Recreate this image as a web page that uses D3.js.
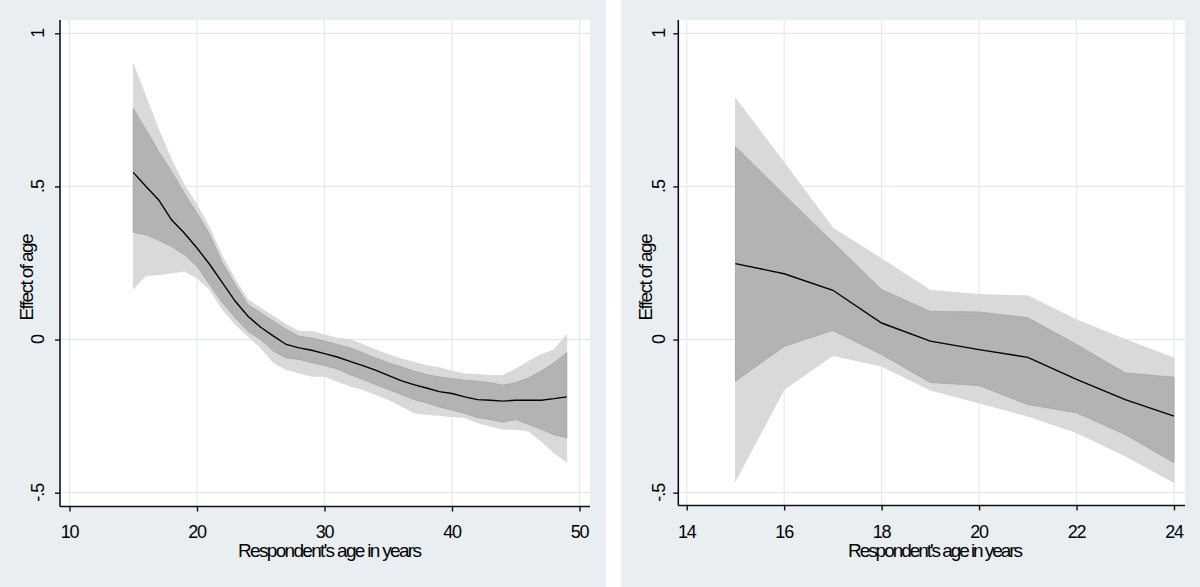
<!DOCTYPE html>
<html>
<head>
<meta charset="utf-8">
<script src="https://cdn.jsdelivr.net/npm/d3@7"></script>
<style>
  html, body { margin: 0; padding: 0; background: #ffffff; }
  svg { display: block; }
  text { font-family: "Liberation Sans", Arial, sans-serif; fill: #000; }
</style>
</head>
<body>
<svg id="chart" width="1200" height="587"></svg>
<script>
// ---------- Data: left panel (ages 15-49) ----------
const agesL = [15,16,17,18,19,20,21,22,23,24,25,26,27,28,29,30,31,32,33,34,35,36,37,38,39,40,41,42,43,44,45,46,47,48,49];
const estL = [0.546,0.500,0.456,0.391,0.348,0.299,0.245,0.185,0.125,0.076,0.040,0.011,-0.016,-0.027,-0.035,-0.046,-0.057,-0.071,-0.085,-0.100,-0.117,-0.134,-0.147,-0.158,-0.170,-0.176,-0.187,-0.196,-0.198,-0.201,-0.198,-0.198,-0.198,-0.193,-0.187];
const innerUpL = [0.755,0.685,0.614,0.549,0.478,0.413,0.342,0.250,0.179,0.114,0.087,0.060,0.033,0.011,0.005,-0.005,-0.016,-0.027,-0.043,-0.060,-0.076,-0.089,-0.103,-0.114,-0.122,-0.128,-0.133,-0.136,-0.141,-0.149,-0.141,-0.125,-0.103,-0.076,-0.043];
const innerLoL = [0.350,0.342,0.324,0.304,0.277,0.239,0.179,0.120,0.071,0.027,0.000,-0.038,-0.060,-0.065,-0.076,-0.085,-0.096,-0.114,-0.130,-0.147,-0.163,-0.179,-0.196,-0.206,-0.220,-0.230,-0.241,-0.255,-0.261,-0.270,-0.261,-0.277,-0.293,-0.310,-0.321];
const outerUpL = [0.900,0.793,0.685,0.587,0.505,0.440,0.364,0.272,0.196,0.130,0.103,0.076,0.049,0.027,0.027,0.016,0.005,0.000,-0.016,-0.033,-0.049,-0.063,-0.074,-0.085,-0.092,-0.103,-0.112,-0.114,-0.117,-0.117,-0.096,-0.071,-0.049,-0.033,0.016];
const outerLoL = [0.165,0.209,0.212,0.217,0.223,0.201,0.163,0.098,0.049,0.011,-0.027,-0.076,-0.098,-0.109,-0.120,-0.120,-0.136,-0.152,-0.163,-0.179,-0.196,-0.217,-0.239,-0.245,-0.248,-0.252,-0.255,-0.272,-0.283,-0.293,-0.293,-0.299,-0.332,-0.370,-0.400];

// ---------- Data: right panel (ages 15-24) ----------
const agesR = [15,16,17,18,19,20,21,22,23,24];
const estR = [0.248,0.215,0.161,0.054,-0.005,-0.033,-0.058,-0.130,-0.196,-0.250];
const innerUpR = [0.630,0.473,0.318,0.163,0.092,0.090,0.071,-0.016,-0.109,-0.123];
const innerLoR = [-0.136,-0.022,0.030,-0.049,-0.140,-0.150,-0.212,-0.239,-0.310,-0.402];
const outerUpR = [0.788,0.578,0.364,0.264,0.161,0.147,0.143,0.065,0.000,-0.060];
const outerLoR = [-0.462,-0.163,-0.052,-0.087,-0.165,-0.207,-0.250,-0.304,-0.380,-0.467];

// ---------- Tick labels ----------
const yTicks = [-0.5, 0, 0.5, 1];
const yTickLabels = ["-.5", "0", ".5", "1"];
const xTicksL = [10, 20, 30, 40, 50];
const xTicksR = [14, 16, 18, 20, 22, 24];
const xTitle = "Respondent's age in years";
const yTitle = "Effect of age";

// ---------- Drawing ----------
const svg = d3.select("#chart");
const BG = "#e8eef2", GRID = "#e2eaef";

function drawPanel(cfg) {
  const g = svg.append("g");
  g.append("rect").attr("x", cfg.bgX0).attr("y", 0)
    .attr("width", cfg.bgX1 - cfg.bgX0).attr("height", 587).attr("fill", BG);
  g.append("rect").attr("x", cfg.plotX0).attr("y", cfg.plotY0)
    .attr("width", cfg.plotX1 - cfg.plotX0).attr("height", cfg.plotY1 - cfg.plotY0).attr("fill", "#ffffff");

  const x = d3.scaleLinear().domain(cfg.xDomain).range(cfg.xRange);
  const y = d3.scaleLinear().domain([-0.5, 1]).range([492.7, 33.3]);

  // gridlines
  g.selectAll(".gy").data(yTicks).enter().append("line")
    .attr("x1", cfg.plotX0).attr("x2", cfg.plotX1)
    .attr("y1", d => y(d)).attr("y2", d => y(d))
    .attr("stroke", GRID).attr("stroke-width", 1.2);
  g.selectAll(".gx").data(cfg.xTicks).enter().append("line")
    .attr("x1", d => x(d)).attr("x2", d => x(d))
    .attr("y1", cfg.plotY0).attr("y2", cfg.plotY1)
    .attr("stroke", GRID).attr("stroke-width", 1.2);

  const rows = cfg.ages.map((a, i) => ({a, est: cfg.est[i], iu: cfg.iu[i], il: cfg.il[i], ou: cfg.ou[i], ol: cfg.ol[i]}));

  const outer = d3.area().x(d => x(d.a)).y0(d => y(d.ol)).y1(d => y(d.ou));
  const inner = d3.area().x(d => x(d.a)).y0(d => y(d.il)).y1(d => y(d.iu));
  const line = d3.line().x(d => x(d.a)).y(d => y(d.est));

  g.append("path").datum(rows).attr("d", outer)
    .attr("fill", "#d9d9d9").attr("stroke", "#d2d2d2").attr("stroke-width", 0.6);
  g.append("path").datum(rows).attr("d", inner)
    .attr("fill", "#b3b3b3").attr("stroke", "#a4a4a4").attr("stroke-width", 0.8);
  g.append("path").datum(rows).attr("d", line)
    .attr("fill", "none").attr("stroke", "#000").attr("stroke-width", 1.4);

  // Y axis
  const yAxis = d3.axisLeft(y).tickValues(yTicks).tickSize(5).tickFormat("");
  const ya = g.append("g").attr("transform", `translate(${cfg.plotX0},0)`).call(yAxis);
  ya.select(".domain").attr("d", `M0,${cfg.plotY0}V${cfg.plotY1}`).attr("stroke", "#111").attr("stroke-width", 1.6);
  ya.selectAll(".tick line").attr("stroke", "#111").attr("stroke-width", 1.4);
  g.selectAll(".ylab").data(yTicks).enter().append("text")
    .attr("transform", d => `translate(${cfg.yLabX},${y(d)}) rotate(-90)`)
    .attr("text-anchor", "middle").attr("font-size", 18).attr("letter-spacing", "-1px")
    .text((d, i) => yTickLabels[i]);

  // X axis
  const xAxis = d3.axisBottom(x).tickValues(cfg.xTicks).tickSize(5).tickFormat("");
  const xa = g.append("g").attr("transform", `translate(0,${cfg.plotY1})`).call(xAxis);
  xa.select(".domain").attr("d", `M${cfg.plotX0},0H${cfg.plotX1}`).attr("stroke", "#111").attr("stroke-width", 1.6);
  xa.selectAll(".tick line").attr("stroke", "#111").attr("stroke-width", 1.4);
  g.selectAll(".xlab").data(cfg.xTicks).enter().append("text")
    .attr("x", d => x(d)).attr("y", 537.5)
    .attr("text-anchor", "middle").attr("font-size", 18).attr("letter-spacing", "-1.2px")
    .text(d => d);

  // titles
  g.append("text").attr("x", cfg.xTitleX).attr("y", 556.5)
    .attr("text-anchor", "middle").attr("font-size", 19)
    .attr("textLength", cfg.xTitleLen).attr("lengthAdjust", "spacing")
    .text(xTitle);
  g.append("text").attr("transform", `translate(${cfg.yTitleX},277) rotate(-90)`)
    .attr("text-anchor", "middle").attr("font-size", 19)
    .attr("textLength", 87).attr("lengthAdjust", "spacing")
    .text(yTitle);
}

drawPanel({
  bgX0: 0, bgX1: 606, plotX0: 60, plotX1: 590, plotY0: 20, plotY1: 506.5,
  xDomain: [10, 50], xRange: [69.5, 579.5], xTicks: xTicksL,
  ages: agesL, est: estL, iu: innerUpL, il: innerLoL, ou: outerUpL, ol: outerLoL,
  yLabX: 43.5, yTitleX: 33, xTitleX: 330, xTitleLen: 184
});
drawPanel({
  bgX0: 621, bgX1: 1200, plotX0: 678.3, plotX1: 1185, plotY0: 20, plotY1: 505.5,
  xDomain: [14, 24], xRange: [686.7, 1174], xTicks: xTicksR,
  ages: agesR, est: estR, iu: innerUpR, il: innerLoR, ou: outerUpR, ol: outerLoR,
  yLabX: 665, yTitleX: 651.5, xTitleX: 935.5, xTitleLen: 175
});
</script>
</body>
</html>
